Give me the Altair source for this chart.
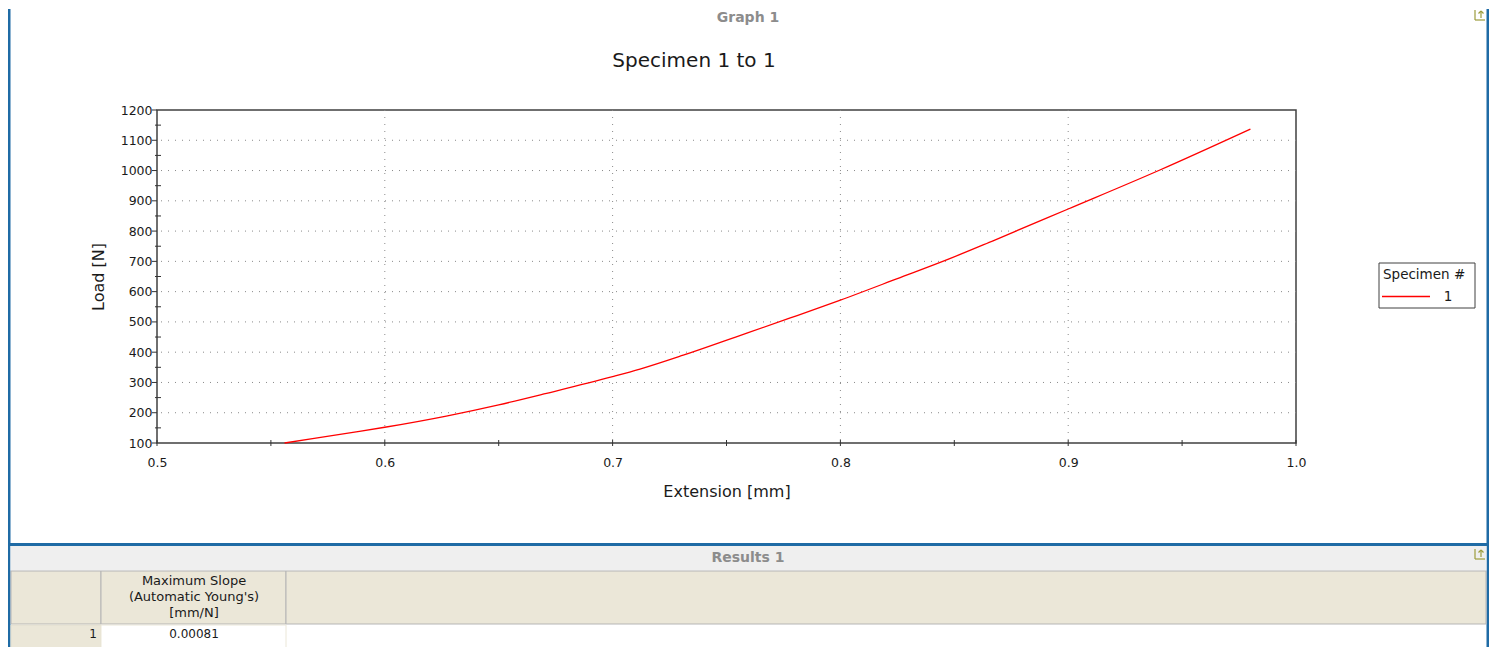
import altair as alt
import pandas as pd

# ---------------- data ----------------
extension_mm = [0.556, 0.569, 0.586, 0.600, 0.627, 0.650, 0.671, 0.700, 0.712, 0.731,
                0.754, 0.778, 0.800, 0.825, 0.848, 0.867, 0.900, 0.940, 0.980]
load_n = [100, 115, 135, 152, 189, 226, 264, 319, 344, 390,
          450, 513, 572, 643, 709, 768, 873, 1001, 1137]
specimen_ids = ["1"]

x_label_values = [0.5, 0.6, 0.7, 0.8, 0.9, 1.0]
x_tick_values = [0.5, 0.55, 0.6, 0.65, 0.7, 0.75, 0.8, 0.85, 0.9, 0.95, 1.0]
x_grid_values = [0.6, 0.7, 0.8, 0.9]
y_label_values = [100, 200, 300, 400, 500, 600, 700, 800, 900, 1000, 1100, 1200]
y_minor_values = [150, 250, 350, 450, 550, 650, 750, 850, 950, 1050, 1150]
y_grid_values = [200, 300, 400, 500, 600, 700, 800, 900, 1000, 1100]

panel_title = "Graph 1"
chart_title = "Specimen 1 to 1"
x_title = "Extension [mm]"
y_title = "Load [N]"
legend_title = "Specimen #"
results_title = "Results 1"
table_header_lines = ["Maximum Slope", "(Automatic Young's)", "[mm/N]"]
table_row_ids = ["1"]
table_values = ["0.00081"]

# ---------------- layout ----------------
FONT = "DejaVu Sans"
W, H = 1139, 333
LEFT, TOP = 149, 102
SVG_W, SVG_H = 1481, 639
BLUE = "#1f6ba5"
BEIGE = "#ebe7d8"
TXT = "#1a1a1a"

one = pd.DataFrame({"k": [0]})

xs = alt.Scale(domain=[0.5, 1.0], nice=False, zero=False)
ys = alt.Scale(domain=[100, 1200], nice=False, zero=False)

x_axis = alt.Axis(values=x_label_values, format=".1f", title=x_title, grid=False,
                  ticks=False, tickSize=0, domain=False, labelPadding=13, titlePadding=15,
                  labelFontSize=12.5, titleFontSize=16, labelColor=TXT, titleColor=TXT,
                  titleFontWeight="normal", labelFont=FONT, titleFont=FONT,
                  labelFlush=False, labelOverlap=False)
y_axis = alt.Axis(values=y_label_values, format="d", title=y_title, grid=False,
                  ticks=False, tickSize=0, domain=False, labelPadding=5, titlePadding=14,
                  labelFontSize=12.5, titleFontSize=16, labelColor=TXT, titleColor=TXT,
                  titleFontWeight="normal", labelFont=FONT, titleFont=FONT,
                  labelFlush=False, labelOverlap=False)


def X(field):
    return alt.X(field, scale=xs, axis=x_axis)


def Y(field):
    return alt.Y(field, scale=ys, axis=y_axis)


def vrect(x1, x2, y1, y2, fill, stroke=None, sw=1.0):
    kw = dict(fill=fill)
    if stroke:
        kw.update(stroke=stroke, strokeWidth=sw)
    return alt.Chart(one).mark_rect(**kw).encode(
        x=alt.value(x1), x2=alt.value(x2), y=alt.value(y1), y2=alt.value(y2))


def vrule(x1, x2, y1, y2, color, sw=1.0):
    return alt.Chart(one).mark_rule(color=color, strokeWidth=sw).encode(
        x=alt.value(x1), x2=alt.value(x2), y=alt.value(y1), y2=alt.value(y2))


def vtext(s, x, y, size, color=TXT, weight="normal", align="center", baseline="middle"):
    return alt.Chart(one).mark_text(font=FONT, fontSize=size, color=color, fontWeight=weight,
                                    align=align, baseline=baseline).encode(
        x=alt.value(x), y=alt.value(y), text=alt.value(s))


def export_icon(x0, y0):
    c = "#9c9c3c"
    return [
        vrule(x0, x0, y0, y0 + 10, c, 1.2),
        vrule(x0, x0 + 10, y0 + 10, y0 + 10, c, 1.2),
        vrule(x0 + 6, x0 + 6, y0 + 1, y0 + 8, c, 1.2),
        vrule(x0 + 3.5, x0 + 6, y0 + 3.5, y0 + 1, c, 1.2),
        vrule(x0 + 8.5, x0 + 6, y0 + 3.5, y0 + 1, c, 1.2),
    ]


# ---------------- plot layers ----------------
curve_df = pd.DataFrame({"extension": extension_mm, "load": load_n,
                         "specimen": specimen_ids * len(extension_mm)})

grid_x = alt.Chart(pd.DataFrame({"extension": x_grid_values})).mark_rule(
    color="#8a8a8a", strokeDash=[1, 6], strokeWidth=1).encode(x=X("extension:Q"))
grid_y = alt.Chart(pd.DataFrame({"load": y_grid_values})).mark_rule(
    color="#8a8a8a", strokeDash=[1, 6], strokeWidth=1).encode(y=Y("load:Q"))

curve = alt.Chart(curve_df).mark_line(color="#ff0000", strokeWidth=1.3,
                                      interpolate="monotone").encode(
    x=X("extension:Q"), y=Y("load:Q"), detail="specimen:N")

ticks_x = alt.Chart(pd.DataFrame({"extension": x_tick_values})).mark_rule(
    color="#333333", strokeWidth=1).encode(x=X("extension:Q"), y=alt.value(H - 3), y2=alt.value(H + 3))
ticks_y_major = alt.Chart(pd.DataFrame({"load": y_label_values})).mark_rule(
    color="#333333", strokeWidth=1).encode(y=Y("load:Q"), x=alt.value(-5), x2=alt.value(0))
ticks_y_minor = alt.Chart(pd.DataFrame({"load": y_minor_values})).mark_rule(
    color="#333333", strokeWidth=1).encode(y=Y("load:Q"), x=alt.value(-2), x2=alt.value(4))

# ---------------- decorations (panel, legend, table) ----------------
deco = []
# graph panel
deco.append(vtext(panel_title, 591, -92, 14, color="#8c8c8c", weight="bold"))
deco.append(vtext(chart_title, 537, -49, 20))
deco += export_icon(1318, -100)

# legend
deco.append(vrect(1222, 1318, 153, 198, "#ffffff", stroke="#404040", sw=1))
deco.append(vtext(legend_title, 1226, 165, 13.5, align="left"))
deco.append(vrule(1225, 1273, 186.5, 186.5, "#ff0000", 1.3))
deco.append(vtext(specimen_ids[0], 1291, 187, 13.5))

# blue frame
deco.append(vrect(-149, -146.5, -101, SVG_H - TOP, BLUE))
deco.append(vrect(1329.5, 1332, -101, SVG_H - TOP, BLUE))
deco.append(vrect(-149, 1332, 433, 436, BLUE))

# results panel
deco.append(vrect(-146.5, 1329.5, 436, 460.5, "#efefef"))
deco.append(vtext(results_title, 591, 447.5, 14, color="#8c8c8c", weight="bold"))
deco += export_icon(1318, 439)

# table header row
deco.append(vrect(-146, -56, 461, 514, BEIGE, stroke="#b5b5b5"))
deco.append(vrect(-56, 129, 461, 514, BEIGE, stroke="#b5b5b5"))
deco.append(vrect(129, 1329, 461, 514, BEIGE, stroke="#b5b5b5"))
for i, line in enumerate(table_header_lines):
    deco.append(vtext(line, 37, 471 + 16 * i, 13))

# table data row
deco.append(vrect(-146, -56, 515, 540, BEIGE, stroke="#e2decd"))
deco.append(vrect(-56, 129, 515, 540, "#ffffff", stroke="#ebe7d8"))
deco.append(vtext(table_row_ids[0], -60, 524, 12, align="right"))
deco.append(vtext(table_values[0], 37, 524, 12))

chart = alt.layer(
    grid_x, grid_y, curve, ticks_x, ticks_y_major, ticks_y_minor, *deco
).properties(
    width=W, height=H,
    padding={"left": LEFT, "top": TOP, "right": SVG_W - LEFT - W, "bottom": SVG_H - TOP - H},
    autosize=alt.AutoSizeParams(type="none"),
    background="#ffffff",
).configure_view(stroke="#404040", strokeWidth=1.5)

chart.save("out.html", embed_options={"renderer": "svg", "actions": False})
